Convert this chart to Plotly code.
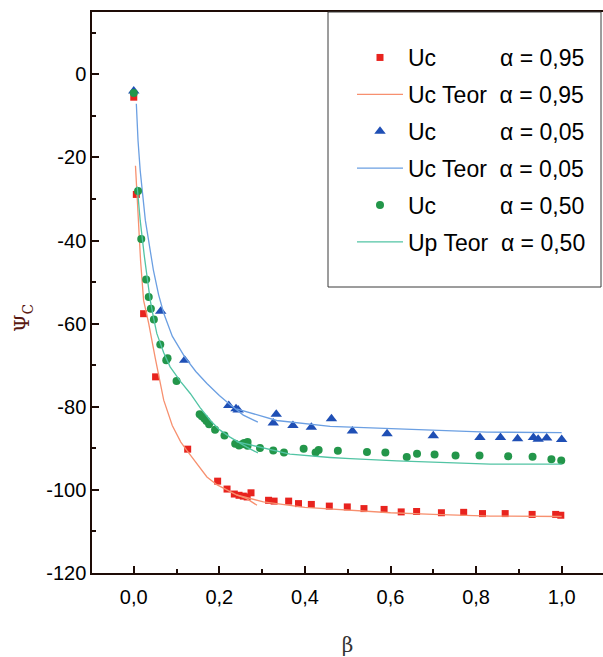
import plotly.graph_objects as go

# ---------------- data ----------------
# Experimental Uc, alpha = 0,95 (red squares)
red_x = [0.0, 0.006, 0.023, 0.051, 0.126, 0.196, 0.218, 0.235, 0.246, 0.256, 0.265, 0.274,
         0.315, 0.328, 0.362, 0.385, 0.415, 0.457, 0.499, 0.538, 0.585, 0.625, 0.661, 0.719,
         0.771, 0.815, 0.868, 0.931, 0.986, 0.998]
red_y = [-5.5, -28.9, -57.6, -72.8, -90.2, -97.9, -99.8, -101.0, -101.3, -101.5, -101.7, -100.7,
         -102.5, -102.7, -102.7, -103.3, -103.5, -103.9, -104.1, -104.5, -104.7, -105.3, -105.2, -105.5,
         -105.4, -105.7, -105.7, -105.9, -105.9, -106.1]

# Experimental Uc, alpha = 0,05 (blue triangles)
blue_x = [0.0, 0.063, 0.119, 0.222, 0.239, 0.244, 0.326, 0.333, 0.372, 0.415, 0.462, 0.511,
          0.592, 0.700, 0.809, 0.857, 0.897, 0.934, 0.945, 0.965, 1.000]
blue_y = [-4.0, -57.0, -68.8, -79.7, -80.5, -80.8, -83.9, -81.8, -84.5, -84.9, -82.9, -85.8,
          -86.5, -87.0, -87.4, -87.4, -87.7, -87.4, -87.8, -87.5, -87.9]

# Experimental Uc, alpha = 0,50 (green circles)
green_x = [0.0, 0.01, 0.0175, 0.029, 0.035, 0.040, 0.047, 0.062, 0.076, 0.079, 0.100, 0.154,
           0.159, 0.165, 0.170, 0.176, 0.190, 0.212, 0.237, 0.246, 0.253, 0.258, 0.266, 0.266,
           0.295, 0.326, 0.351, 0.397, 0.425, 0.432, 0.477, 0.545, 0.588, 0.638, 0.662, 0.703,
           0.752, 0.808, 0.875, 0.932, 0.976, 0.999]
green_y = [-4.5, -28.1, -39.6, -49.4, -53.6, -56.4, -59.0, -65.0, -68.8, -68.3, -73.8, -81.8,
           -82.3, -82.8, -83.4, -84.2, -85.5, -86.9, -88.9, -89.3, -89.0, -88.7, -88.5, -89.4,
           -89.9, -90.5, -91.0, -90.1, -91.0, -90.4, -90.6, -90.9, -91.0, -92.1, -91.3, -91.5,
           -91.7, -91.7, -91.9, -92.0, -92.6, -92.9]

# Theoretical curves (two overlapping pieces each)
red_teor_x1 = [0.004, 0.01, 0.016, 0.023, 0.035, 0.05, 0.07, 0.09, 0.11, 0.124, 0.15, 0.171,
               0.195, 0.218, 0.24, 0.264, 0.288]
red_teor_y1 = [-22, -34, -45, -54.4, -60, -68.2, -78.4, -84.5, -88.5, -90.5, -94.2, -96.9,
               -98.8, -100.1, -101.2, -102.1, -103.7]
red_teor_x2 = [0.24, 0.303, 0.4, 0.506, 0.6, 0.7, 0.833, 1.0]
red_teor_y2 = [-101.2, -102.9, -104.2, -104.9, -105.5, -105.9, -106.3, -106.4]

blue_teor_x1 = [0.006, 0.01, 0.015, 0.027, 0.046, 0.058, 0.07, 0.09, 0.119, 0.145, 0.171,
                0.2, 0.222, 0.256, 0.29]
blue_teor_y1 = [-7.1, -16, -23.1, -35.1, -47.2, -53.0, -57.5, -63.0, -68.0, -71.5, -74.4,
                -77.3, -79.2, -82.0, -83.7]
blue_teor_x2 = [0.24, 0.334, 0.459, 0.506, 0.615, 0.825, 1.0]
blue_teor_y2 = [-80.5, -83.3, -84.7, -84.9, -85.3, -86.1, -86.2]

green_teor_x1 = [0.008, 0.015, 0.025, 0.035, 0.0385, 0.046, 0.054, 0.07, 0.085, 0.11, 0.132,
                 0.155, 0.179, 0.2, 0.225, 0.264, 0.29]
green_teor_y1 = [-27, -35.1, -44, -51.2, -54.4, -58.5, -62.4, -67, -70.4, -74, -76.8,
                 -80.2, -83.3, -85.5, -87.3, -89.7, -91.1]
green_teor_x2 = [0.24, 0.365, 0.459, 0.506, 0.615, 0.833, 1.0]
green_teor_y2 = [-88.4, -91.4, -92.2, -92.5, -93.0, -93.8, -93.8]

x_tick_vals = [0.0, 0.2, 0.4, 0.6, 0.8, 1.0]
x_tick_text = ["0,0", "0,2", "0,4", "0,6", "0,8", "1,0"]
y_tick_vals = [-120, -100, -80, -60, -40, -20, 0]
y_tick_text = ["-120", "-100", "-80", "-60", "-40", "-20", "0"]

legend_names = [
    "Uc" + "\u00a0" * 10 + "α = 0,95",
    "Uc Teor" + "\u00a0" * 2 + "α = 0,95",
    "Uc" + "\u00a0" * 10 + "α = 0,05",
    "Uc Teor" + "\u00a0" * 2 + "α = 0,05",
    "Uc" + "\u00a0" * 10 + "α = 0,50",
    "Up Teor" + "\u00a0" * 2 + "α = 0,50",
]

# ---------------- figure ----------------
W, H = 603, 657
ML, MR, MT, MB = 92, 0, 12, 84
PW = W - ML - MR
PH = H - MT - MB

def px_x(p):
    return (p - ML) / PW

def px_y(p):
    return (H - MB - p) / PH

FONT = "Liberation Sans Narrow, Arial Narrow, Liberation Sans, Arial"

def joined(xa, ya, xb, yb):
    return xa + [None] + xb, ya + [None] + yb

fig = go.Figure()

RED_M, RED_L = "#e8231e", "#f7906f"
BLUE_M, BLUE_L = "#1f4fb5", "#6b9fe2"
GREEN_M, GREEN_L = "#23964a", "#52c4a4"

fig.add_trace(go.Scatter(x=red_x, y=red_y, mode="markers", name=legend_names[0],
                         legendgroup="g1",
                         marker=dict(symbol="square", size=7, color=RED_M)))
rx, ry = joined(red_teor_x1, red_teor_y1, red_teor_x2, red_teor_y2)
fig.add_trace(go.Scatter(x=rx, y=ry, mode="lines", name=legend_names[1], legendgroup="g2",
                         line=dict(color=RED_L, width=1.3)))
fig.add_trace(go.Scatter(x=blue_x, y=blue_y, mode="markers", name=legend_names[2],
                         legendgroup="g3",
                         marker=dict(symbol="triangle-up", size=10, color=BLUE_M)))
bx, by = joined(blue_teor_x1, blue_teor_y1, blue_teor_x2, blue_teor_y2)
fig.add_trace(go.Scatter(x=bx, y=by, mode="lines", name=legend_names[3], legendgroup="g4",
                         line=dict(color=BLUE_L, width=1.3)))
fig.add_trace(go.Scatter(x=green_x, y=green_y, mode="markers", name=legend_names[4],
                         legendgroup="g5",
                         marker=dict(symbol="circle", size=8, color=GREEN_M)))
gx, gy = joined(green_teor_x1, green_teor_y1, green_teor_x2, green_teor_y2)
fig.add_trace(go.Scatter(x=gx, y=gy, mode="lines", name=legend_names[5], legendgroup="g6",
                         line=dict(color=GREEN_L, width=1.3)))

AXC = "#1e0c06"

fig.update_layout(
    width=W, height=H,
    margin=dict(l=ML, r=MR, t=MT, b=MB, pad=0),
    paper_bgcolor="white", plot_bgcolor="white",
    showlegend=True,
    legend=dict(
        x=px_x(352), y=px_y(36), xanchor="left", yanchor="top",
        xref="paper", yref="paper",
        bgcolor="rgba(0,0,0,0)", borderwidth=0,
        font=dict(family=FONT, size=23, color="black"),
        itemwidth=46, traceorder="grouped", tracegroupgap=4,
    ),
    xaxis=dict(
        range=[-0.0976, 1.0966], showgrid=False, zeroline=False,
        showline=True, linecolor=AXC, linewidth=1.5, mirror=True,
        ticks="inside", ticklen=7, tickwidth=1.5, tickcolor=AXC,
        tickmode="array", tickvals=x_tick_vals, ticktext=x_tick_text,
        tickfont=dict(family=FONT, size=20, color="black"),
        ticklabelstandoff=5,
        minor=dict(tickmode="linear", tick0=0.1, dtick=0.2, ticks="inside",
                   ticklen=4, tickwidth=1.5, tickcolor=AXC),
        title=dict(text="β", font=dict(family="DejaVu Serif, serif", size=20, color="#333333"),
                   standoff=34),
    ),
    yaxis=dict(
        range=[-120, 15], showgrid=False, zeroline=False,
        showline=True, linecolor=AXC, linewidth=1.5, mirror=False,
        ticks="inside", ticklen=7, tickwidth=1.5, tickcolor=AXC,
        tickmode="array", tickvals=y_tick_vals, ticktext=y_tick_text,
        tickfont=dict(family=FONT, size=20, color="black"),
        minor=dict(tickmode="linear", tick0=-110, dtick=20, ticks="inside",
                   ticklen=4, tickwidth=1.5, tickcolor=AXC),
    ),
    shapes=[dict(type="rect", xref="paper", yref="paper",
                 x0=px_x(328), x1=px_x(601), y0=px_y(287), y1=px_y(12),
                 line=dict(color="#3a3a3a", width=1), fillcolor="rgba(0,0,0,0)")],
    annotations=[dict(text="Ψ<sub>C</sub>", textangle=-90, showarrow=False,
                      xref="paper", yref="paper", x=px_x(23), y=px_y(318),
                      xanchor="center", yanchor="middle",
                      font=dict(family="DejaVu Serif, serif", size=20, color="#5a1a12"))],
)

fig.write_html("out.html")
